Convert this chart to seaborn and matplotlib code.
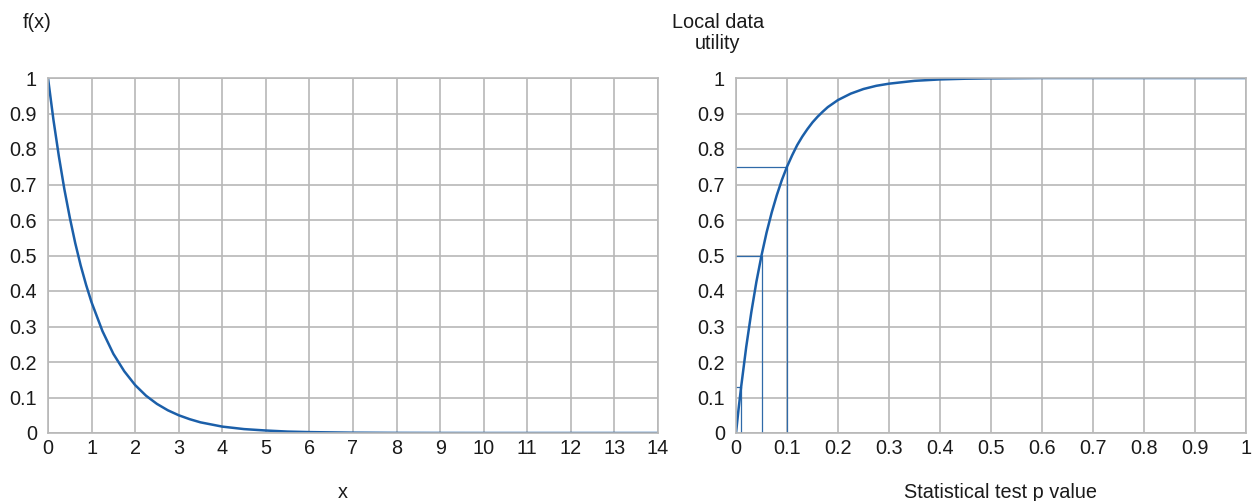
import numpy as np
import pandas as pd
import seaborn as sns
import matplotlib.pyplot as plt

# Courbe gauche : f(x)
x_vals = [0, 0.125, 0.25, 0.375, 0.5, 0.625, 0.75, 0.875, 1, 1.25, 1.5, 1.75, 2, 2.25, 2.5, 2.75,
          3, 3.25, 3.5, 3.75, 4, 4.5, 5, 5.5, 6, 7, 8, 9, 10, 11, 12, 13, 14]
fx_vals = [1.0, 0.882, 0.779, 0.687, 0.607, 0.535, 0.472, 0.417, 0.368, 0.287, 0.223, 0.174, 0.135,
           0.105, 0.082, 0.064, 0.050, 0.039, 0.030, 0.024, 0.018, 0.011, 0.007, 0.004, 0.0025,
           0.0009, 0.0003, 0.0001, 0.0, 0.0, 0.0, 0.0, 0.0]

# Courbe droite : utilité locale selon la p-value
p_vals = [0, 0.005, 0.01, 0.02, 0.03, 0.04, 0.05, 0.06, 0.07, 0.08, 0.09, 0.10, 0.11, 0.12, 0.13,
          0.14, 0.15, 0.16, 0.17, 0.18, 0.19, 0.20, 0.225, 0.25, 0.275, 0.30, 0.35, 0.40, 0.45,
          0.50, 0.6, 0.7, 0.8, 0.9, 1.0]
util_vals = [0.0, 0.067, 0.129, 0.242, 0.340, 0.426, 0.500, 0.565, 0.621, 0.670, 0.713, 0.750,
             0.782, 0.811, 0.835, 0.856, 0.875, 0.891, 0.905, 0.918, 0.928, 0.938, 0.956, 0.969,
             0.978, 0.984, 0.992, 0.996, 0.998, 0.999, 1.0, 1.0, 1.0, 1.0, 1.0]

# Repères (p, utilité)
guide_p = [0.01, 0.05, 0.10]
guide_u = [0.13, 0.50, 0.75]

left_xticks = list(range(0, 15))
right_xticks = [0, 0.1, 0.2, 0.3, 0.4, 0.5, 0.6, 0.7, 0.8, 0.9, 1]
right_xlabels = ['0', '0.1', '0.2', '0.3', '0.4', '0.5', '0.6', '0.7', '0.8', '0.9', '1']
yticks = [0, 0.1, 0.2, 0.3, 0.4, 0.5, 0.6, 0.7, 0.8, 0.9, 1]
ylabels = ['0', '0.1', '0.2', '0.3', '0.4', '0.5', '0.6', '0.7', '0.8', '0.9', '1']

sns.set_theme(style='white')
plt.rcParams['font.family'] = ['Liberation Sans', 'DejaVu Sans']

curve_col = '#1b5fa9'
guide_col = '#2f6aa8'
grid_col = '#b8b8b8'
txt_col = '#1a1a1a'
fs = 14.3

fig = plt.figure(figsize=(12.53, 5.01), dpi=100)
ax1 = fig.add_axes([48 / 1253, 1 - 433 / 501, 610 / 1253, 355 / 501])
ax2 = fig.add_axes([736 / 1253, 1 - 433 / 501, 510 / 1253, 355 / 501])

left_df = pd.DataFrame({'x': x_vals, 'fx': fx_vals})
right_df = pd.DataFrame({'p': p_vals, 'u': util_vals})

sns.lineplot(data=left_df, x='x', y='fx', ax=ax1, color=curve_col, linewidth=1.8)
sns.lineplot(data=right_df, x='p', y='u', ax=ax2, color=curve_col, linewidth=1.8)

for gp, gu in zip(guide_p, guide_u):
    ax2.plot([0, gp], [gu, gu], color=guide_col, linewidth=0.9, zorder=1)
    ax2.plot([gp, gp], [0, gu], color=guide_col, linewidth=0.9, zorder=1)

for ax, xt in [(ax1, left_xticks), (ax2, right_xticks)]:
    ax.set_xticks(xt)
    ax.set_yticks(yticks)
    ax.set_yticklabels(ylabels, fontsize=fs)
    ax.grid(True, color=grid_col, linewidth=1.2)
    ax.set_axisbelow(True)
    for s in ax.spines.values():
        s.set_color(grid_col)
        s.set_linewidth(1.2)
    ax.tick_params(axis='x', length=0, pad=4, labelsize=fs, colors=txt_col)
    ax.tick_params(axis='y', length=0, pad=8, labelsize=fs, colors=txt_col)
    ax.set_ylim(0, 1)
    ax.set_xlabel('')
    ax.set_ylabel('')

ax1.set_xlim(0, 14)
ax1.set_xticklabels([str(t) for t in left_xticks], fontsize=fs)
ax2.set_xlim(0, 1)
ax2.set_xticklabels(right_xlabels, fontsize=fs)

fig.text(343 / 1253, 1 - 492 / 501, 'x', fontsize=fs, ha='center', va='center', color=txt_col)
fig.text(1000 / 1253, 1 - 492 / 501, 'Statistical test p value', fontsize=fs, ha='center',
         va='center', color=txt_col)
fig.text(37 / 1253, 1 - 22 / 501, 'f(x)', fontsize=fs, ha='center', va='center', color=txt_col)
fig.text(718 / 1253, 1 - 33 / 501, 'Local data\nutility', fontsize=fs, ha='center', va='center',
         color=txt_col, linespacing=1.15)

plt.savefig('out.png', dpi=100)
